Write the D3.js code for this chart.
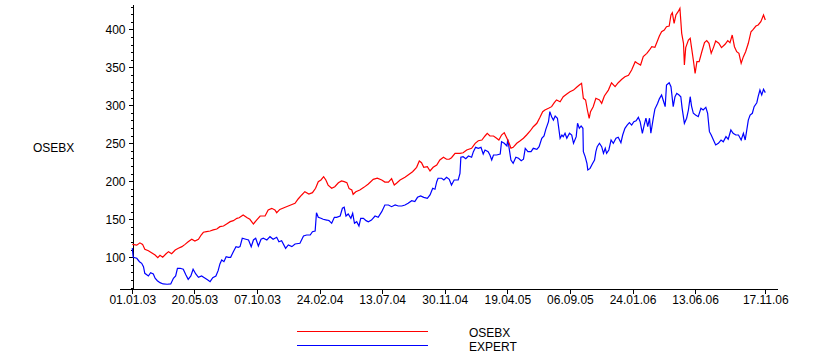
<!DOCTYPE html>
<html>
<head>
<meta charset="utf-8">
<script src="https://cdn.jsdelivr.net/npm/d3@7"></script>
<style>
  html, body { margin: 0; padding: 0; background: #fff; }
  svg { display: block; }
  text { font-family: "Liberation Sans", Arial, sans-serif; font-size: 12px; fill: #000; }
</style>
</head>
<body>
<div id="chart"></div>
<script>
// ---------------- DATA ----------------
const seriesNames = ["OSEBX", "EXPERT"];
const seriesColors = ["#ff0000", "#0000ff"];
const yAxisTitle = "OSEBX";

const xTickLabels = ["01.01.03","20.05.03","07.10.03","24.02.04","13.07.04","30.11.04","19.04.05","06.09.05","24.01.06","13.06.06","17.11.06"];
const yMajorTicks = [100, 150, 200, 250, 300, 350, 400];
const yMinorTicks = [60,70,80,90,110,120,130,140,160,170,180,190,210,220,230,240,260,270,280,290,310,320,330,340,360,370,380,390,410,420,430];
const xDomain = ["2003-01-01", "2006-11-17"];
const yDomain = [57.6, 433.3];

const osebxDates = [
"2003-01-01","2003-01-11","2003-01-18","2003-01-24","2003-01-29","2003-02-06","2003-02-13","2003-02-21","2003-02-27","2003-03-04",
"2003-03-10","2003-03-17","2003-03-23","2003-03-30","2003-04-07","2003-04-14","2003-04-22","2003-04-29","2003-05-06","2003-05-14",
"2003-05-21","2003-05-29","2003-06-04","2003-06-09","2003-06-16","2003-06-24","2003-07-01","2003-07-09","2003-07-16","2003-07-24",
"2003-07-31","2003-08-08","2003-08-15","2003-08-23","2003-08-28","2003-09-06","2003-09-15","2003-09-21","2003-09-29","2003-10-06",
"2003-10-14","2003-10-25","2003-11-01","2003-11-09","2003-11-16","2003-11-20","2003-11-27","2003-12-09","2003-12-20","2003-12-31",
"2004-01-07","2004-01-15","2004-01-22","2004-01-31","2004-02-08","2004-02-15","2004-02-21","2004-02-27","2004-03-04","2004-03-09",
"2004-03-14","2004-03-22","2004-03-29","2004-04-06","2004-04-13","2004-04-19","2004-04-25","2004-04-30","2004-05-06","2004-05-09",
"2004-05-15","2004-05-24","2004-06-02","2004-06-12","2004-06-23","2004-07-02","2004-07-12","2004-07-19","2004-07-27","2004-08-03",
"2004-08-09","2004-08-14","2004-08-22","2004-09-02","2004-09-09","2004-09-19","2004-09-28","2004-10-04","2004-10-09","2004-10-14",
"2004-10-22","2004-10-28","2004-11-04","2004-11-12","2004-11-19","2004-11-27","2004-12-04","2004-12-10","2004-12-15","2004-12-23",
"2005-01-03","2005-01-10","2005-01-18","2005-01-29","2005-02-06","2005-02-13","2005-02-21","2005-02-28","2005-03-05","2005-03-11",
"2005-03-19","2005-03-26","2005-03-31","2005-04-06","2005-04-12","2005-04-18","2005-04-23","2005-04-27","2005-05-02","2005-05-10",
"2005-05-17","2005-05-25","2005-06-01","2005-06-09","2005-06-16","2005-06-24","2005-07-01","2005-07-07","2005-07-12","2005-07-20",
"2005-07-27","2005-08-02","2005-08-07","2005-08-15","2005-08-22","2005-08-30","2005-09-06","2005-09-14","2005-09-21","2005-09-27",
"2005-10-02","2005-10-06","2005-10-11","2005-10-15","2005-10-19","2005-10-22","2005-10-28","2005-11-03","2005-11-11","2005-11-16",
"2005-11-22","2005-12-01","2005-12-08","2005-12-16","2005-12-23","2005-12-31",
"2006-01-07","2006-01-15","2006-01-22","2006-01-30","2006-02-04","2006-02-11","2006-02-17","2006-02-25","2006-03-03","2006-03-08",
"2006-03-15","2006-03-20","2006-03-25","2006-03-30","2006-04-05","2006-04-10","2006-04-16","2006-04-20","2006-04-23","2006-04-27",
"2006-05-01","2006-05-06","2006-05-10","2006-05-14","2006-05-18","2006-05-20","2006-05-23","2006-05-29","2006-06-02","2006-06-05",
"2006-06-09","2006-06-13","2006-06-17","2006-06-22","2006-06-28","2006-07-04","2006-07-09","2006-07-14","2006-07-19","2006-07-24",
"2006-07-29","2006-08-05","2006-08-11","2006-08-19","2006-08-25","2006-08-30","2006-09-04","2006-09-09","2006-09-14","2006-09-19",
"2006-09-24","2006-09-29","2006-10-04","2006-10-10","2006-10-16","2006-10-21","2006-10-27","2006-11-01","2006-11-07","2006-11-13",
"2006-11-17"
];
const osebxValues = [
117,116,119,117,110.5,108.7,106,103,99.5,102.6,
100,104.3,107.4,104.7,109.6,111.8,114,117,120.5,123.7,
121.4,123.7,129.3,132.9,133.7,134.6,136,137.2,140.3,141.2,
143.8,146.9,148.2,151.3,152,155.6,152,150,143.8,149,
154.3,154.3,162.2,164.4,162.2,158.7,163,165.8,168.4,171,
176.7,182,186.3,183.3,185,190.8,199.5,201.7,206,201.7,
195,190.8,192.9,198,200.4,199.5,198.2,190.3,188.6,182.9,
186.3,188.6,192,196.4,202.6,204,201.7,199,199,203.4,
195,197.4,201.7,205.3,208.3,212.6,218.4,226.7,224.5,218.4,
219.2,213.6,218.4,221.4,228,231.6,229,229,231,236.8,
236.8,237.6,241.2,243.4,250,253.4,254.3,259.6,263,259.6,
259.6,256.6,254.3,260.9,264,256.6,250,243.4,244.7,250,
253,256.6,260.9,266.2,271.8,276.3,284.2,291.6,293.8,296,
298.2,303.4,307,304.7,311.3,314.9,317.9,320,323.7,326.7,
329,309.2,307,293.8,282.9,291.6,298.2,309.2,307,302.6,
312.3,320,329.7,324.5,329.7,334.2,
337.6,339.5,346.4,357.4,355.3,353,364,368.4,372.8,377.1,
376.3,383.7,391.2,396.8,399,403.4,404.3,418.8,421.8,407.9,
418.8,423.2,427.6,394.7,381.6,353,375.9,385.9,388.2,375.9,
359.6,342,357.4,357.4,370.5,382.4,385.2,381.6,368.4,375.9,
384.6,381.6,375.9,380.3,385.2,382.4,392.5,377.1,370.5,368.4,
355.3,364,370.5,381.6,396.8,400,404.3,405.7,410.1,418.8,
412.2
];

const expertDates = [
"2003-01-01","2003-01-03","2003-01-11","2003-01-17","2003-01-22","2003-01-26","2003-01-29","2003-02-06","2003-02-11","2003-02-17",
"2003-02-21","2003-02-26","2003-03-04","2003-03-11","2003-03-20","2003-03-28","2003-04-03","2003-04-08","2003-04-12","2003-04-18",
"2003-04-25","2003-05-01","2003-05-06","2003-05-12","2003-05-17","2003-05-23","2003-05-29","2003-06-05","2003-06-13","2003-06-19",
"2003-06-24","2003-06-30","2003-07-07","2003-07-12","2003-07-16","2003-07-20","2003-07-25","2003-07-30","2003-08-04","2003-08-09",
"2003-08-15","2003-08-21","2003-08-26","2003-08-30","2003-09-04","2003-09-12","2003-09-18","2003-09-24","2003-09-29","2003-10-04",
"2003-10-10","2003-10-16","2003-10-21","2003-10-29","2003-11-05","2003-11-12","2003-11-20","2003-11-25","2003-12-01","2003-12-10",
"2003-12-16","2003-12-24","2003-12-31",
"2004-01-11","2004-01-19","2004-01-26","2004-02-03","2004-02-08","2004-02-14","2004-02-17","2004-02-21","2004-02-27","2004-03-03",
"2004-03-11","2004-03-16","2004-03-22","2004-03-28","2004-04-02","2004-04-10","2004-04-15","2004-04-19","2004-04-23","2004-04-28",
"2004-05-04","2004-05-08","2004-05-12","2004-05-17","2004-05-22","2004-05-26","2004-06-01","2004-06-07","2004-06-12","2004-06-19",
"2004-06-27","2004-07-04","2004-07-12","2004-07-19","2004-07-27","2004-08-03","2004-08-11","2004-08-18","2004-08-26","2004-09-02",
"2004-09-09","2004-09-17","2004-09-24","2004-09-30","2004-10-07","2004-10-14","2004-10-22","2004-10-28","2004-11-03","2004-11-08",
"2004-11-12","2004-11-15","2004-11-23","2004-11-28","2004-12-04","2004-12-10","2004-12-15","2004-12-21","2004-12-30",
"2005-01-03","2005-01-05","2005-01-10","2005-01-16","2005-01-22","2005-01-29","2005-02-02","2005-02-07","2005-02-13","2005-02-19",
"2005-02-24","2005-02-28","2005-03-07","2005-03-11","2005-03-15","2005-03-19","2005-03-26","2005-04-03","2005-04-06","2005-04-12",
"2005-04-18","2005-04-20","2005-04-23","2005-04-27","2005-05-02","2005-05-08","2005-05-14","2005-05-20","2005-05-25","2005-05-29",
"2005-06-04","2005-06-11","2005-06-16","2005-06-24","2005-06-29","2005-07-05","2005-07-10","2005-07-14","2005-07-20","2005-07-23",
"2005-07-27","2005-07-31","2005-08-04","2005-08-09","2005-08-15","2005-08-19","2005-08-22","2005-08-26","2005-08-30","2005-09-05",
"2005-09-10","2005-09-14","2005-09-20","2005-09-23","2005-09-27","2005-10-01","2005-10-05","2005-10-06","2005-10-10","2005-10-14",
"2005-10-16","2005-10-21","2005-10-26","2005-10-31","2005-11-03","2005-11-06","2005-11-11","2005-11-16","2005-11-20","2005-11-24",
"2005-11-27","2005-12-02","2005-12-07","2005-12-12","2005-12-18","2005-12-23","2005-12-29",
"2006-01-02","2006-01-07","2006-01-12","2006-01-17","2006-01-22","2006-01-27","2006-02-01","2006-02-06","2006-02-10","2006-02-15",
"2006-02-19","2006-02-23","2006-02-27","2006-03-03","2006-03-06","2006-03-12","2006-03-15","2006-03-21","2006-03-25","2006-03-30",
"2006-04-03","2006-04-07","2006-04-10","2006-04-16","2006-04-20","2006-04-25","2006-04-29","2006-05-03","2006-05-08","2006-05-12",
"2006-05-15","2006-05-20","2006-05-25","2006-05-29","2006-06-02","2006-06-05","2006-06-09","2006-06-14","2006-06-20","2006-06-26",
"2006-07-01","2006-07-07","2006-07-11","2006-07-15","2006-07-19","2006-07-24","2006-07-29","2006-08-04","2006-08-10","2006-08-15",
"2006-08-21","2006-08-26","2006-09-01","2006-09-06","2006-09-12","2006-09-18","2006-09-24","2006-09-29","2006-10-03","2006-10-06",
"2006-10-10","2006-10-14","2006-10-19","2006-10-23","2006-10-29","2006-11-01","2006-11-05","2006-11-09","2006-11-13","2006-11-17"
];
const expertValues = [
112,100,98.7,94.2,92.1,87.6,78.9,75.4,79.7,78,
72.4,69.2,66.6,64.9,64.5,64.9,72.4,75.4,85.5,85.5,
84.2,76.7,71,75.4,84.2,78,73.7,75.4,72.4,70.1,
67.9,73.2,75.4,82.4,91.2,96.4,94.2,100.8,100,100,
107.4,114,113.2,114,125,123.7,122.8,114,122.8,125,
114.9,123.7,125,122.8,127.1,123.7,126.3,120.5,121.8,111.8,
116.2,114,117.5,
118.4,128,129.3,129.3,133.7,134.6,158.7,152.6,151.3,150,
149,148.2,144.7,152.6,152.6,154.3,164.5,165.8,154.3,157,
151.3,157.9,144.7,146.8,141.2,151.3,151.3,148.2,146.8,149,
154.3,152.6,160,168.8,168.8,166.6,168.8,167.5,167.5,168.8,
171,174.5,173.2,178.9,180.7,178.9,177.6,182,190.8,189.5,
199.5,204,204,201.7,205.3,202.6,195,201.7,201.7,
210.5,231.6,232.4,229.8,233.3,231.6,239,244.7,243.4,244.7,
235.9,241.2,239,234.6,228,234.6,234.6,235.9,252,250,
246.4,255.3,243.4,228,223.6,231.6,230.3,227.1,229,243.4,
239,239,243.4,242.1,245.5,256.6,259.6,268.4,278.4,291.6,
285,280.6,285.9,283,256.6,260.9,258.7,263.2,256.6,263.2,
260.9,250,258.7,276.3,269.7,272.8,269.7,239,232.4,223.6,
214.9,217,222.8,228,239,245.5,250,245.5,236.8,243.4,
236.8,241.2,254.3,250,256.6,257.9,250.8,
260.9,269.7,274,277.1,274,278.4,279.7,284.2,278.4,263.2,
274,283,271.8,283,263.2,285,295,302.5,308.5,313.6,
306,298.2,326.7,329.7,324.5,298.2,311.3,315.8,313.6,311.3,
296,276.3,283,293.8,311.3,299,289.5,287.2,285,296,
293.8,297.3,289.5,265.3,260.9,254.3,247.8,250,254.3,252,
258.7,255.3,267.5,263.2,260.9,260.9,254.3,263.2,254.3,265.3,
280.6,287.2,289.5,298.2,303.4,311.3,320,313.6,321.1,316.7
];

// ---------------- CHART ----------------
const W = 823, H = 359;
const parseISO = d3.utcParse("%Y-%m-%d");
const parseLbl = d3.utcParse("%d.%m.%y");
const fmtLbl = d3.utcFormat("%d.%m.%y");

const svg = d3.select("#chart").append("svg")
  .attr("width", W).attr("height", H)
  .attr("viewBox", `0 0 ${W} ${H}`);
svg.append("rect").attr("width", W).attr("height", H).attr("fill", "#fff");

const x = d3.scaleUtc().domain(xDomain.map(parseISO)).range([132.3, 765.3]);
const y = d3.scaleLinear().domain(yDomain).range([289.5, 4]);

function zip(dates, vals) {
  const n = Math.min(dates.length, vals.length);
  const out = [];
  for (let i = 0; i < n; i++) out.push({ date: parseISO(dates[i]), value: vals[i] });
  return out;
}
const series = [
  { name: seriesNames[0], color: seriesColors[0], data: zip(osebxDates, osebxValues) },
  { name: seriesNames[1], color: seriesColors[1], data: zip(expertDates, expertValues) }
];

// Y axis (minor ticks)
svg.append("g")
  .attr("transform", "translate(132.5,0)")
  .attr("shape-rendering", "crispEdges")
  .call(d3.axisLeft(y).tickValues(yMinorTicks).tickSize(2).tickSizeOuter(0).tickFormat(""))
  .call(g => g.select(".domain").remove());

// Y axis (major ticks + domain line)
const yAxisG = svg.append("g")
  .attr("transform", "translate(132.5,0)")
  .attr("shape-rendering", "crispEdges")
  .call(d3.axisLeft(y).tickValues(yMajorTicks).tickSize(4).tickSizeOuter(0).tickPadding(3).tickFormat(d3.format("d")));
yAxisG.selectAll("text").attr("font-family", null).attr("font-size", null).attr("fill", "#000");
yAxisG.selectAll("line, path").attr("stroke", "#000");
yAxisG.attr("font-family", null).attr("font-size", null);

// X axis
const xAxisG = svg.append("g")
  .attr("transform", "translate(0,289.5)")
  .attr("shape-rendering", "crispEdges")
  .call(d3.axisBottom(x).tickValues(xTickLabels.map(parseLbl)).tickSize(4).tickSizeOuter(0).tickPadding(2).tickFormat(fmtLbl));
xAxisG.select(".domain").remove();
xAxisG.attr("font-family", null).attr("font-size", null);
xAxisG.selectAll("text").attr("fill", "#000");
xAxisG.selectAll("line").attr("stroke", "#000");
xAxisG.append("line")
  .attr("x1", x.range()[0] - 12).attr("x2", x.range()[1] + 13)
  .attr("y1", 0).attr("y2", 0)
  .attr("stroke", "#000");

// Y axis title
svg.append("text").attr("x", 33).attr("y", 152).text(yAxisTitle);

// Lines
const line = d3.line().x(d => x(d.date)).y(d => y(d.value));
series.slice().reverse().forEach(s => {
  svg.append("path")
    .datum(s.data)
    .attr("fill", "none")
    .attr("stroke", s.color)
    .attr("stroke-width", 1.2)
    .attr("stroke-linejoin", "miter")
    .attr("d", line);
});

// Legend
const legend = svg.append("g").attr("transform", "translate(297,331.5)");
series.forEach((s, i) => {
  legend.append("line")
    .attr("x1", 0).attr("x2", 131)
    .attr("y1", i * 14).attr("y2", i * 14)
    .attr("stroke", s.color).attr("stroke-width", 1)
    .attr("shape-rendering", "crispEdges");
  legend.append("text")
    .attr("x", 172).attr("y", i * 14 + 5)
    .text(s.name);
});
</script>
</body>
</html>
